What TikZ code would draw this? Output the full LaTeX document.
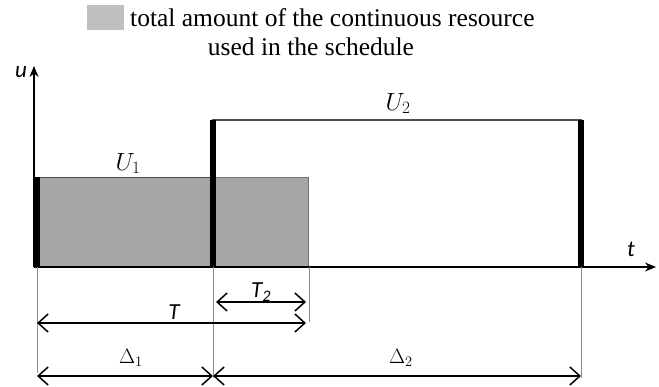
\documentclass[tikz,border=0pt]{standalone}
\usepackage{fontspec}
\setmainfont{Liberation Serif}
\newfontfamily\calib{Carlito}
\usetikzlibrary{arrows.meta}
\definecolor{boxgrey}{HTML}{A6A6A6}
\definecolor{leggrey}{HTML}{BFBFBF}
\definecolor{extgrey}{HTML}{8C8C8C}
\tikzset{
  axisline/.style={line width=1.5pt,-{Stealth[length=11pt,width=9pt]}},
  bar/.style={line width=6pt},
  extline/.style={draw=extgrey,line width=1pt},
  dimarrow/.style={line width=1.5pt,{Straight Barb[length=10pt,width=18pt]}-{Straight Barb[length=10pt,width=18pt]}},
  italab/.style={font=\calib\itshape\fontsize{23}{26}\selectfont,inner sep=0pt},
  mathlab/.style={font=\fontsize{24}{28}\selectfont,inner sep=0pt},
  serlab/.style={font=\fontsize{21}{25}\selectfont,inner sep=0pt},
  legtext/.style={font=\fontsize{25.5}{29}\selectfont,inner sep=0pt},
}
\begin{document}
\begin{tikzpicture}[x=1pt,y=-1pt]
\useasboundingbox (0,0) rectangle (659,386);
% coordinates
\coordinate (O) at (34,267);
\coordinate (uend) at (34,66);
\coordinate (tend) at (656,267);
% grey box (continuous resource)
\fill[boxgrey] (34,177) rectangle (308,267);
\draw[draw=black!70,line width=1pt] (34,177) -- (212,177);
\draw[draw=black!55,line width=0.8pt] (212,177) -- (308,177) -- (308,267);
% U2 box top
\draw[draw=black!70,line width=1.6pt] (212,120) -- (582,120);
% axes
\draw[axisline] (O) -- (uend);
\draw[axisline] (O) -- (tend);
% thick bars
\draw[bar] (36.5,177) -- (36.5,267);
\draw[bar] (213,120) -- (213,267);
\draw[bar] (581,120) -- (581,267);
% extension lines
\coordinate (e1t) at (37,267); \coordinate (e1b) at (37,373);
\coordinate (e2t) at (213,267); \coordinate (e2b) at (213,378);
\coordinate (e3t) at (309,267); \coordinate (e3b) at (309,322);
\coordinate (e4t) at (581,267); \coordinate (e4b) at (581,378);
\draw[extline] (e1t) -- (e1b);
\draw[extline] (e2t) -- (e2b);
\draw[extline] (e3t) -- (e3b);
\draw[extline] (e4t) -- (e4b);
% dimension arrows
\coordinate (T2a) at (216,302); \coordinate (T2b) at (306,302);
\coordinate (Ta) at (37,323); \coordinate (Tb) at (306,323);
\coordinate (D1a) at (37,376); \coordinate (D1b) at (213,376);
\coordinate (D2a) at (213,376); \coordinate (D2b) at (581,376);
\draw[dimarrow] (T2a) -- (T2b);
\draw[dimarrow] (Ta) -- (Tb);
\draw[dimarrow] (D1a) -- (D1b);
\draw[dimarrow] (D2a) -- (D2b);
% labels
\node[italab] (ulab) at (21,72) {u};
\node[italab] (tlab) at (631,249) {t};
\node[italab] (Tlab) at (174,312) {T};
\node[italab] (T2lab) at (261,292) {T\textsubscript{2}};
\node[mathlab,anchor=base] (U1lab) at (128,170) {$U_1$};
\node[mathlab,anchor=base] (U2lab) at (398,110) {$U_2$};
\node[serlab] (D1lab) at (131,358) {$\Delta_1$};
\node[serlab] (D2lab) at (401,358) {$\Delta_2$};
% legend
\fill[leggrey] (87,5) rectangle (124,30);
\node[legtext,anchor=base west] (leg1) at (130,26) {total amount of the continuous resource};
\node[legtext,anchor=base] (leg2) at (311,55) {used in the schedule};
\end{tikzpicture}
\end{document}
